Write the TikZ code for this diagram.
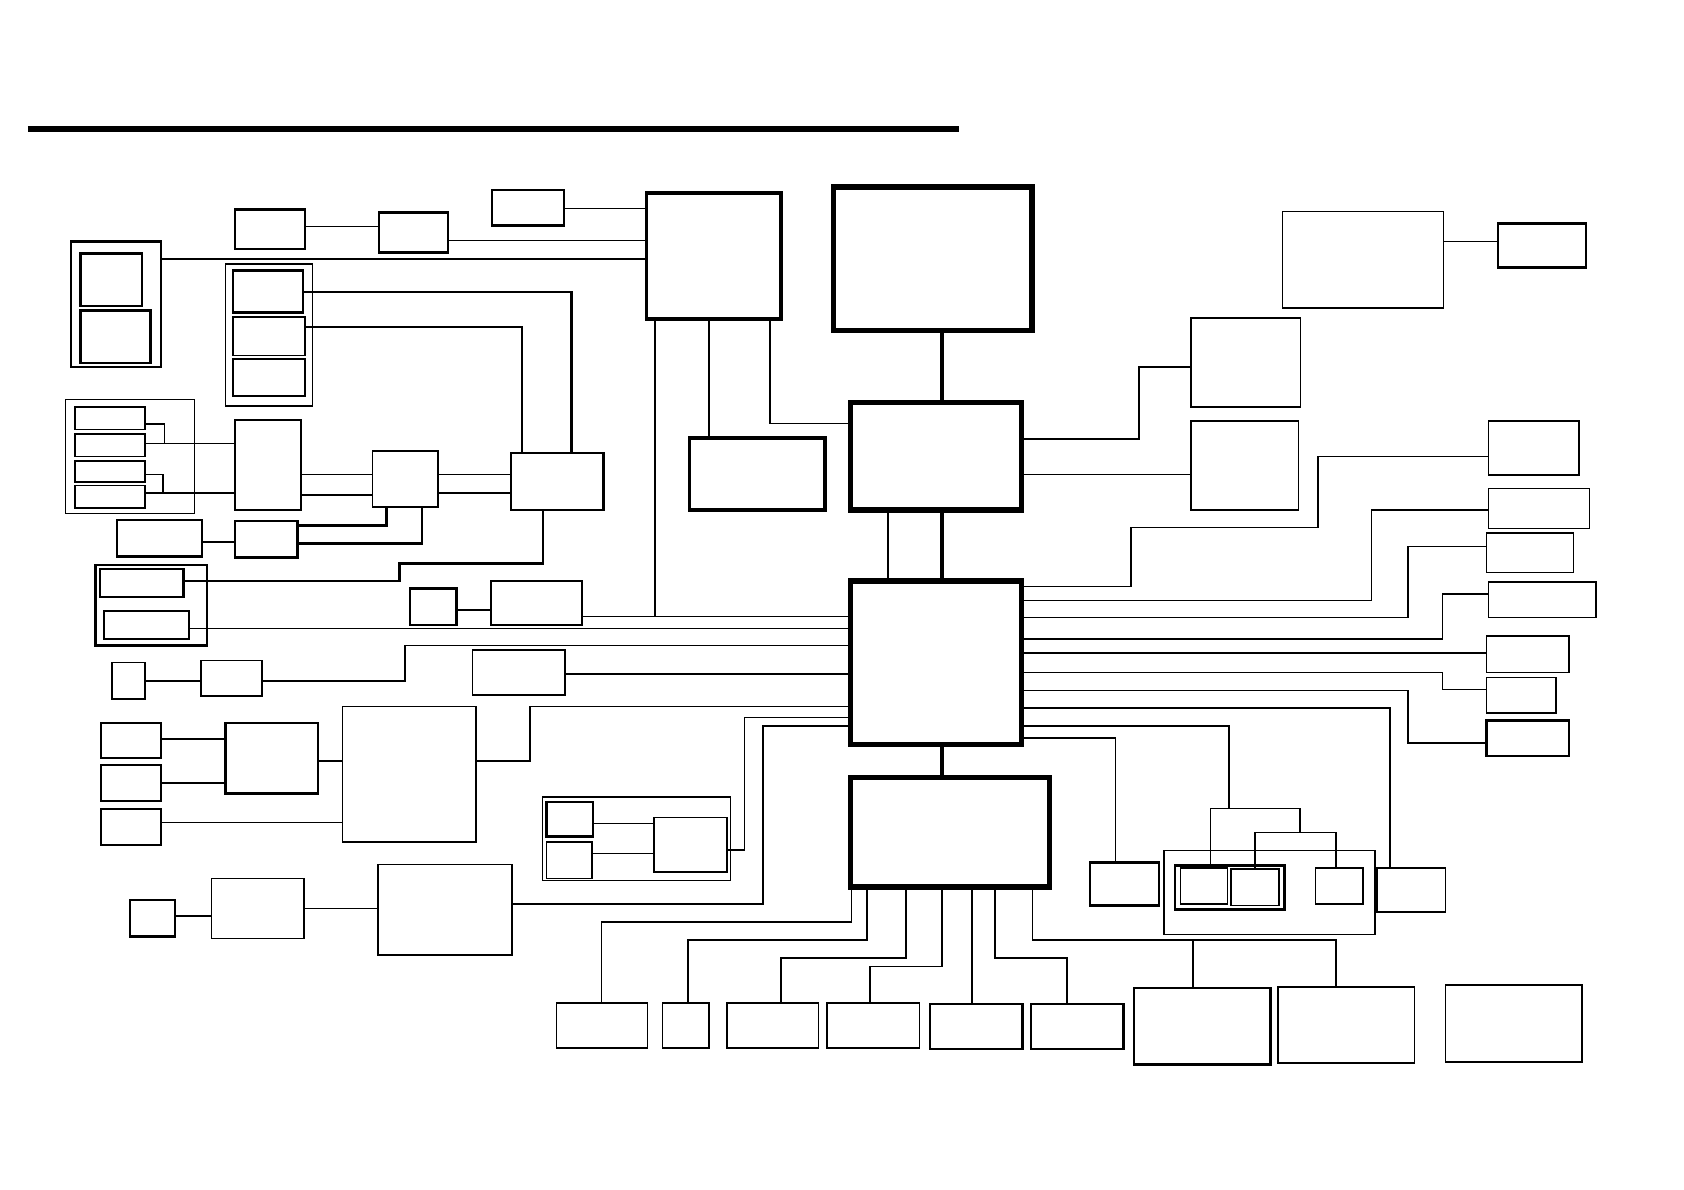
\documentclass[tikz,border=0pt]{standalone}
\usetikzlibrary{fit}
\newcommand\mybox[6]{\node[#6, fit={(#2,#3) (#4,#5)}] (#1) {};}
\begin{document}
\begin{tikzpicture}[x=1pt,y=-1pt,
  bx/.style={draw, line width=1.5pt, inner sep=0pt, outer sep=0pt},
  bxm/.style={bx, line width=2.2pt},
  bxt/.style={bx, line width=3.4pt},
  bxk/.style={bx, line width=5pt},
  wire/.style={line width=1.4pt},
  wirem/.style={line width=2.3pt},
  wirek/.style={line width=4pt}]
\fill[white] (0,0) rectangle (1568,1108);
\useasboundingbox (0,0) rectangle (1568,1108);
\draw[line width=5.5pt] (26,120) -- (893,120);
% boxes
\mybox{B1}{219}{195}{284}{232}{bxm}
\mybox{B2}{353}{198}{417}{235}{bxm}
\mybox{B3}{458}{177}{525}{210}{bxm}
\mybox{NB}{602}{180}{727}{297}{bxt}
\mybox{CPU}{776}{174}{961}{308}{bxk}
\mybox{G1}{66}{225}{150}{342}{bxm}
\mybox{G1a}{75}{236}{132}{285}{bxm}
\mybox{G1b}{75}{289}{140}{338}{bxm}
\mybox{G2}{210}{246}{291}{378}{bx}
\mybox{G2a}{217}{252}{282}{291}{bxm}
\mybox{G2b}{217}{295}{284}{331}{bx}
\mybox{G2c}{217}{334}{284}{369}{bx}
\mybox{G3}{61}{372}{181}{478}{bx}
\mybox{G3a}{70}{379}{135}{400}{bx}
\mybox{G3b}{70}{404}{135}{425}{bx}
\mybox{G3c}{70}{429}{135}{449}{bx}
\mybox{G3d}{70}{452}{135}{473}{bx}
\mybox{L}{219}{391}{280}{475}{bxm}
\mybox{M}{347}{420}{408}{472}{bx}
\mybox{H}{476}{422}{562}{475}{bxm}
\mybox{MCH}{792}{375}{951}{475}{bxk}
\mybox{SB}{642}{408}{768}{475}{bxt}
\mybox{RA}{1109}{296}{1211}{379}{bx}
\mybox{RB}{1109}{392}{1209}{475}{bx}
\mybox{TR}{1194}{197}{1344}{287}{bx}
\mybox{TR2}{1395}{208}{1477}{249}{bxm}
\mybox{R1}{1386}{392}{1470}{442}{bx}
\mybox{R2}{1386}{455}{1480}{492}{bx}
\mybox{R3}{1384}{496}{1465}{533}{bx}
\mybox{R4}{1386}{542}{1486}{575}{bx}
\mybox{R5}{1384}{592}{1461}{626}{bx}
\mybox{R6}{1384}{631}{1449}{664}{bx}
\mybox{R7}{1384}{671}{1461}{704}{bxm}
\mybox{P}{109}{484}{188}{518}{bxm}
\mybox{Q}{219}{485}{277}{519}{bxm}
\mybox{G4}{89}{526}{193}{601}{bxm}
\mybox{G4a}{93}{530}{171}{556}{bxm}
\mybox{G4b}{97}{569}{176}{595}{bxm}
\mybox{S1}{382}{548}{425}{582}{bxm}
\mybox{S2}{457}{541}{542}{582}{bx}
\mybox{ICH}{792}{541}{951}{693}{bxk}
\mybox{SM1}{104}{617}{135}{651}{bx}
\mybox{SM2}{187}{615}{244}{648}{bx}
\mybox{X1}{440}{605}{526}{647}{bx}
\mybox{SQ1}{94}{673}{150}{706}{bx}
\mybox{SQ2}{94}{712}{150}{746}{bxm}
\mybox{SQ3}{94}{753}{150}{787}{bxm}
\mybox{MID}{210}{673}{296}{739}{bxm}
\mybox{BB1}{319}{658}{443}{784}{bx}
\mybox{G5}{505}{742}{680}{820}{bx}
\mybox{G5a}{509}{747}{552}{779}{bxm}
\mybox{G5b}{509}{784}{551}{818}{bx}
\mybox{G5c}{609}{761}{677}{812}{bx}
\mybox{T1}{121}{838}{163}{872}{bxm}
\mybox{T2}{197}{818}{283}{874}{bx}
\mybox{BB2}{352}{805}{477}{889}{bx}
\mybox{ODD}{792}{724}{977}{826}{bxk}
\mybox{BT1}{518}{934}{603}{976}{bx}
\mybox{BT2}{617}{934}{660}{976}{bx}
\mybox{BT3}{677}{934}{762}{976}{bx}
\mybox{BT4}{770}{934}{856}{976}{bx}
\mybox{BT5}{866}{935}{952}{977}{bxm}
\mybox{BT6}{960}{935}{1046}{977}{bxm}
\mybox{BT7}{1056}{920}{1183}{991}{bxm}
\mybox{BT8}{1190}{919}{1317}{990}{bx}
\mybox{BT9}{1346}{917}{1473}{989}{bx}
\mybox{RC}{1015}{803}{1079}{843}{bxm}
\mybox{G6}{1084}{792}{1280}{870}{bx}
\mybox{G6i}{1094}{806}{1196}{847}{bxm}
\mybox{G6a}{1099}{808}{1143}{842}{bx}
\mybox{G6b}{1146}{809}{1191}{843}{bx}
\mybox{G6c}{1225}{808}{1269}{842}{bx}
\mybox{RD}{1282}{808}{1346}{849}{bx}
% connectors
\draw[wire] (B1.east |- 0,211) -- (B2.west |- 0,211);
\draw[wire] (B3.east |- 0,194) -- (NB.west |- 0,194);
\draw[wire] (B2.east |- 0,224) -- (NB.west |- 0,224);
\draw[wire] (G1.east |- 0,241) -- (NB.west |- 0,241);
\draw[wirem] (G2a.east |- 0,272) -| (H.north -| 532,0);
\draw[wirem] (G2b.east |- 0,304.5) -| (H.north -| 486,0);
\draw[wire] (L.east |- 0,442) -- (M.west |- 0,442);
\draw[wirem] (L.east |- 0,461) -- (M.west |- 0,461);
\draw[wire] (M.east |- 0,442) -- (H.west |- 0,442);
\draw[wire] (M.east |- 0,459) -- (H.west |- 0,459);
\draw[wire] (G3a.east |- 0,395) -| (153,413);
\draw[wire] (G3b.east |- 0,413) -- (L.west |- 0,413);
\draw[wire] (G3c.east |- 0,442) -| (152,459);
\draw[wire] (G3d.east |- 0,459) -- (L.west |- 0,459);
\draw[wirem] (P.east |- 0,504.5) -- (Q.west |- 0,504.5);
\draw[wirem] (Q.east |- 0,489.5) -| (M.south -| 360,0);
\draw[wirem] (Q.east |- 0,506) -| (M.south -| 393,0);
\draw[wirem] (G4a.east |- 0,541) -| (372,524.5) -| (H.south -| 505.5,0);
\draw[wire] (G4b.east |- 0,585) -- (ICH.west |- 0,585);
\draw[wire] (S1.east |- 0,568) -- (S2.west |- 0,568);
\draw[wire] (S2.east |- 0,574) -- (ICH.west |- 0,574);
\draw[wire] (NB.south -| 610,0) -- (610,574);
\draw[wire] (NB.south -| 660,0) -- (SB.north -| 660,0);
\draw[wire] (NB.south -| 717,0) |- (MCH.west |- 0,394.4);
\draw[wirek] (CPU.south -| 877,0) -- (MCH.north -| 877,0);
\draw[wirek] (MCH.south -| 877,0) -- (ICH.north -| 877,0);
\draw[wire] (MCH.south -| 827,0) -- (ICH.north -| 827,0);
\draw[wirek] (ICH.south -| 877,0) -- (ODD.north -| 877,0);
\draw[wire] (SM1.east |- 0,634) -- (SM2.west |- 0,634);
\draw[wire] (SM2.east |- 0,634) -| (377,601) -- (ICH.west |- 0,601);
\draw[wire] (X1.east |- 0,627.6) -- (ICH.west |- 0,627.6);
\draw[wire] (SQ1.east |- 0,688) -- (MID.west |- 0,688);
\draw[wire] (SQ2.east |- 0,729) -- (MID.west |- 0,729);
\draw[wire] (SQ3.east |- 0,766) -- (BB1.west |- 0,766);
\draw[wire] (MID.east |- 0,708.5) -- (BB1.west |- 0,708.5);
\draw[wire] (BB1.east |- 0,708.5) -| (493.5,658) -- (ICH.west |- 0,658);
\draw[wire] (G5a.east |- 0,766.6) -- (G5c.west |- 0,766.6);
\draw[wire] (G5b.east |- 0,794.6) -- (G5c.west |- 0,794.6);
\draw[wire] (G5c.east |- 0,791.5) -| (693.4,668) -- (ICH.west |- 0,668);
\draw[wire] (T1.east |- 0,853) -- (T2.west |- 0,853);
\draw[wire] (T2.east |- 0,846) -- (BB2.west |- 0,846);
\draw[wire] (BB2.east |- 0,841.7) -| (710.6,676) -- (ICH.west |- 0,676);
\draw[wire] (MCH.east |- 0,408.8) -| (1060.4,341.7) -- (RA.west |- 0,341.7);
\draw[wire] (MCH.east |- 0,442) -- (RB.west |- 0,442);
\draw[wire] (TR.east |- 0,225) -- (TR2.west |- 0,225);
\draw[wire] (ICH.east |- 0,546) -| (1053,491) -| (1227,425) -- (R1.west |- 0,425);
\draw[wire] (ICH.east |- 0,559) -| (1277,475) -- (R2.west |- 0,475);
\draw[wire] (ICH.east |- 0,575) -| (1311,509) -- (R3.west |- 0,509);
\draw[wire] (ICH.east |- 0,595) -| (1343,553) -- (R4.west |- 0,553);
\draw[wire] (ICH.east |- 0,608) -- (R5.west |- 0,608);
\draw[wire] (ICH.east |- 0,626) -| (1343,642) -- (R6.west |- 0,642);
\draw[wire] (ICH.east |- 0,643) -| (1311,692) -- (R7.west |- 0,692);
\draw[wire] (ICH.east |- 0,659) -| (RD.north -| 1294,0);
\draw[wire] (ICH.east |- 0,676) -| (1144.5,752.6);
\draw[wire] (G6a.north -| 1127,0) |- (1210.6,752.6) -- (1210.6,775);
\draw[wire] (G6b.north -| 1168.6,0) -- (1168.6,775) -- (1244,775) -- (G6c.north -| 1244,0);
\draw[wire] (ICH.east |- 0,687) -| (RC.north -| 1038.7,0);
\draw[wire] (ODD.south -| 793,0) |- (560,858.5) -- (BT1.north -| 560,0);
\draw[wire] (ODD.south -| 807.5,0) |- (640.6,875.3) -- (BT2.north -| 640.6,0);
\draw[wire] (ODD.south -| 843.5,0) |- (727,892) -- (BT3.north -| 727,0);
\draw[wire] (ODD.south -| 877,0) |- (810,900) -- (BT4.north -| 810,0);
\draw[wire] (ODD.south -| 905,0) -- (BT5.north -| 905,0);
\draw[wire] (ODD.south -| 926.5,0) |- (993.6,892) -- (BT6.north -| 993.6,0);
\draw[wire] (ODD.south -| 961.5,0) |- (1244,875.3) -- (BT8.north -| 1244,0);
\coordinate (j7) at (1111,875.3);
\draw[wire] (j7) -- (BT7.north -| j7);
\end{tikzpicture}
\end{document}
